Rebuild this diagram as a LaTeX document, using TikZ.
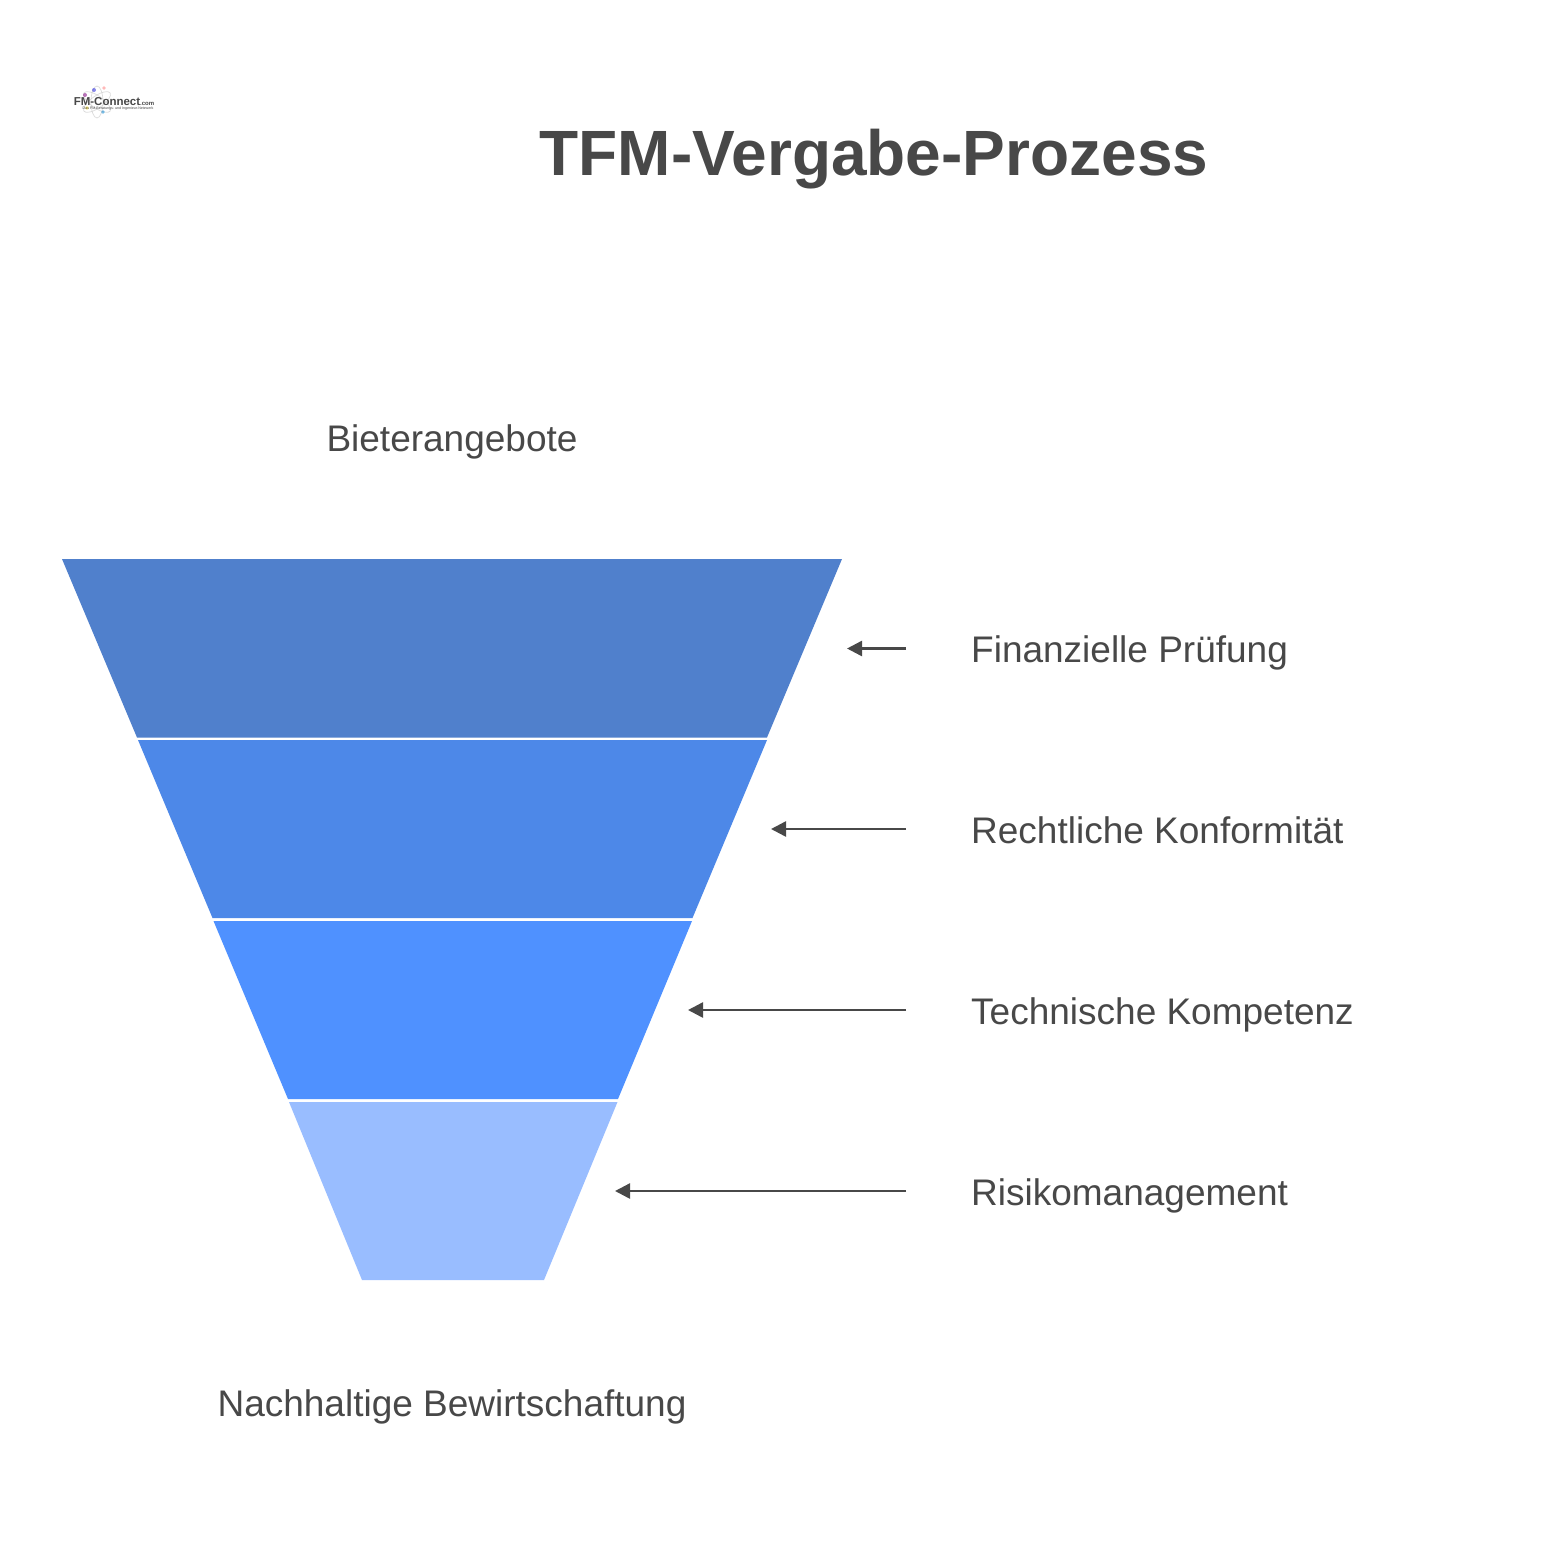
\documentclass[tikz,border=0pt]{standalone}
\usepackage{fontspec}
\setmainfont{Liberation Sans}
\usetikzlibrary{arrows.meta}
\definecolor{ink}{HTML}{484848}
\definecolor{bandA}{HTML}{5080CC}
\definecolor{bandB}{HTML}{4D88E8}
\definecolor{bandC}{HTML}{4F91FF}
\definecolor{bandD}{HTML}{99BDFF}
\tikzset{
  label/.style={text=ink,font=\fontsize{37}{44}\selectfont,inner sep=0pt},
  sidelabel/.style={label,anchor=west},
  pointer/.style={draw=ink,line width=2.5pt,-{Triangle[length=15pt,width=15pt]}},
  band/.style={draw=none}
}
\begin{document}
\begin{tikzpicture}[x=1pt,y=-1pt]
\useasboundingbox (0,0) rectangle (1558,1553);
\fill[white] (0,0) rectangle (1558,1553);
% logo
\begin{scope}[opacity=.55]
\draw[gray!50,line width=.7pt,rotate around={35:(97,102)}] (97,102) ellipse (16 and 6);
\draw[gray!50,line width=.7pt,rotate around={-35:(97,102)}] (97,102) ellipse (16 and 6);
\draw[gray!50,line width=.7pt,rotate around={90:(97,102)}] (97,102) ellipse (16 and 6);
\fill[violet] (85,95) circle (2);
\fill[blue!70!gray] (94,90) circle (2);
\fill[red!50] (104,88) circle (1.8);
\fill[yellow!80!orange] (87,108) circle (1.8);
\fill[cyan!70!blue] (103,112) circle (1.8);
\end{scope}
\node[text=ink,inner sep=0pt,font=\fontsize{11.5}{12}\selectfont\bfseries] (logoname) at (114,101.5) {FM-Connect\fontsize{6}{7}\selectfont.com};
\node[text=ink,inner sep=0pt,font=\fontsize{3.6}{4}\selectfont] (logotag) at (118,108.5) {Das FM-Beratungs- und Ingenieur-Netzwerk};
% title
\node[text=ink,inner sep=0pt,font=\fontsize{64}{72}\selectfont\bfseries] (title) at (874,159) {TFM-Vergabe-Prozess};
% funnel
\path[band,fill=bandA] (62,559) -- (842,559) -- (767,737.5) -- (137,737.5) -- cycle;
\path[band,fill=bandB] (138,740) -- (767,740) -- (692.5,918) -- (212.5,918) -- cycle;
\path[band,fill=bandC] (213.5,921) -- (692,921) -- (618,1099) -- (288,1099) -- cycle;
\path[band,fill=bandD] (289,1102) -- (617.5,1102) -- (544,1280) -- (362,1280) -- cycle;
\coordinate (tipA) at (847,648.5);
\coordinate (tipB) at (771,829);
\coordinate (tipC) at (688,1010);
\coordinate (tipD) at (615,1191);
\coordinate (startA) at (906,648.5);
\coordinate (startB) at (906,829);
\coordinate (startC) at (906,1010);
\coordinate (startD) at (906,1191);
\draw[pointer] (startA) -- (tipA);
\draw[pointer] (startB) -- (tipB);
\draw[pointer] (startC) -- (tipC);
\draw[pointer] (startD) -- (tipD);
% labels
\node[label,anchor=base] (top) at (452,451) {Bieterangebote};
\node[label,anchor=base] (bottom) at (452,1416) {Nachhaltige Bewirtschaftung};
\node[sidelabel,anchor=base west] (la) at (971,662) {Finanzielle Prüfung};
\node[sidelabel,anchor=base west] (lb) at (971,843) {Rechtliche Konformität};
\node[sidelabel,anchor=base west] (lc) at (971,1024) {Technische Kompetenz};
\node[sidelabel,anchor=base west] (ld) at (971,1205) {Risikomanagement};
\end{tikzpicture}
\end{document}
